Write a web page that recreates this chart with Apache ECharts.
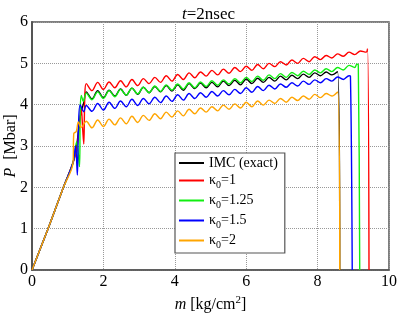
<!DOCTYPE html>
<html><head><meta charset="utf-8">
<script src="https://cdn.jsdelivr.net/npm/echarts@6/dist/echarts.min.js"></script>
<style>html,body{margin:0;padding:0;background:#fff}#c{width:398px;height:315px}</style>
</head><body><div id="c"></div>
<script>
// shared elastic ramp (all runs coincide)
const rampX = [0, 0.45, 0.88, 1.15];
const rampP = [0, 1.0, 2.0, 2.6];
// x positions of successive crests/troughs of the plateau oscillation
const waveX = [1.52,1.68,1.84,2.00,2.16,2.32,2.48,2.64,2.80,2.96,3.12,3.28,3.44,3.60,3.76,3.92,4.08,4.24,4.40,4.56,4.72,4.88,5.04,5.20,5.36,5.52,5.68,5.84,6.00,6.16,6.32,6.48,6.64,6.80,6.96,7.12,7.28,7.44,7.60,7.76,7.92,8.08,8.24,8.40,8.56,8.72,8.88,9.04,9.20,9.36];

// IMC (exact)
const imcRiseX = [1.25,1.33,1.40,1.45];
const imcRiseP = [3.0,3.6,3.9,4.05];
const imcP = [4.31,4.14,4.34,4.17,4.35,4.21,4.38,4.23,4.40,4.25,4.42,4.29,4.44,4.31,4.46,4.33,4.48,4.35,4.51,4.39,4.52,4.41,4.54,4.43,4.57,4.46,4.59,4.48,4.62,4.51,4.64,4.54,4.66,4.57,4.69,4.60,4.71,4.63,4.74,4.66,4.77,4.70,4.79,4.72,4.80];
const imcEndX = [8.62];
const imcEndP = [0];

// kappa0 = 1
const k1RiseX = [1.25,1.33,1.38,1.42,1.45,1.48];
const k1RiseP = [2.9,3.5,3.9,3.4,3.05,4.2];
const k1P = [4.51,4.34,4.54,4.37,4.55,4.41,4.58,4.43,4.61,4.46,4.63,4.51,4.66,4.54,4.70,4.57,4.73,4.61,4.77,4.65,4.79,4.69,4.83,4.72,4.86,4.76,4.90,4.80,4.93,4.83,4.97,4.87,5.00,4.92,5.04,4.96,5.08,5.00,5.12,5.04,5.16,5.09,5.19,5.13,5.23,5.17,5.27,5.21,5.30,5.27];
const k1EndX = [9.40, 9.44];
const k1EndP = [5.35, 0];

// kappa0 = 1.25
const k125RiseX = [1.25,1.33,1.35,1.38,1.44];
const k125RiseP = [3.1,2.5,3.8,4.22,4.08];
const k125P = [4.28,4.12,4.31,4.15,4.34,4.19,4.37,4.23,4.40,4.26,4.42,4.29,4.45,4.32,4.48,4.35,4.50,4.38,4.53,4.41,4.55,4.44,4.58,4.47,4.60,4.50,4.63,4.53,4.66,4.56,4.69,4.59,4.72,4.63,4.75,4.66,4.78,4.70,4.81,4.73,4.84,4.77,4.87,4.80,4.90,4.84,4.95,4.90];
const k125EndX = [9.10, 9.14, 9.18];
const k125EndP = [4.98, 4.97, 0];

// kappa0 = 1.5
const k15RiseX = [1.22,1.27,1.30,1.35,1.45];
const k15RiseP = [3.0,2.3,3.4,4.0,3.83];
const k15P = [3.98,3.84,4.03,3.87,4.06,3.91,4.09,3.95,4.13,3.98,4.15,4.02,4.18,4.05,4.21,4.08,4.24,4.11,4.27,4.15,4.29,4.18,4.32,4.21,4.34,4.24,4.37,4.27,4.41,4.30,4.44,4.34,4.47,4.38,4.50,4.42,4.53,4.45,4.57,4.49,4.60,4.53,4.63,4.57,4.67,4.61,4.70];
const k15EndX = [8.92, 8.97];
const k15EndP = [4.69, 0];

// kappa0 = 2
const k2RiseX = [1.17,1.24,1.30,1.38];
const k2RiseP = [3.3,3.35,3.58,3.45];
const k2P = [3.60,3.44,3.63,3.47,3.65,3.51,3.68,3.54,3.72,3.57,3.74,3.62,3.78,3.66,3.82,3.70,3.85,3.73,3.89,3.78,3.92,3.82,3.95,3.85,3.99,3.89,4.02,3.92,4.06,3.95,4.09,3.99,4.11,4.03,4.15,4.06,4.18,4.10,4.21,4.13,4.25,4.17,4.27,4.21,4.31];
const k2EndX = [8.62];
const k2EndP = [0];

const names = ['IMC (exact)', 'k1', 'k125', 'k15', 'k2'];
const legendText = {
  'IMC (exact)': 'IMC (exact)',
  'k1': 'κ{sub|0}=1',
  'k125': 'κ{sub|0}=1.25',
  'k15': 'κ{sub|0}=1.5',
  'k2': 'κ{sub|0}=2'
};
const colors = ['#000000', '#ff0000', '#11ee11', '#0000ff', '#ffa500'];

function build(riseX, riseP, P, endX, endP) {
  const d = [];
  rampX.forEach((x, i) => d.push([x, rampP[i]]));
  riseX.forEach((x, i) => d.push([x, riseP[i]]));
  P.forEach((p, i) => d.push([waveX[i], p]));
  endX.forEach((x, i) => d.push([x, endP[i]]));
  return d;
}
const datasets = [
  build(imcRiseX, imcRiseP, imcP, imcEndX, imcEndP),
  build(k1RiseX, k1RiseP, k1P, k1EndX, k1EndP),
  build(k125RiseX, k125RiseP, k125P, k125EndX, k125EndP),
  build(k15RiseX, k15RiseP, k15P, k15EndX, k15EndP),
  build(k2RiseX, k2RiseP, k2P, k2EndX, k2EndP)
];

const serif = '"Liberation Serif", "DejaVu Serif", serif';
const chart = echarts.init(document.getElementById('c'), null, {renderer: 'canvas'});
chart.setOption({
  animation: false,
  color: colors,
  title: {
    text: '{i|t}=2nsec',
    left: 177, top: 1,
    textStyle: {
      fontFamily: serif, fontSize: 17, fontWeight: 'normal', color: '#000',
      rich: { i: {fontFamily: serif, fontSize: 17, fontStyle: 'italic', color: '#000'} }
    }
  },
  graphic: [{
    type: 'text',
    x: 11, y: 146,
    rotation: Math.PI / 2,
    style: {
      text: '{i|P}  [Mbar]',
      fill: '#000',
      font: '16px "Liberation Serif", serif',
      align: 'center', verticalAlign: 'middle',
      rich: { i: {fontFamily: serif, fontSize: 16, fontStyle: 'italic', fill: '#000'} }
    }
  }],
  grid: {
    left: 32, right: 9, top: 22, bottom: 45,
    containLabel: false, outerBoundsMode: 'none',
    show: true, borderColor: '#555', borderWidth: 1.5, backgroundColor: 'transparent'
  },
  legend: {
    orient: 'vertical',
    left: 175, top: 153,
    data: names,
    itemWidth: 25, itemHeight: 14, itemGap: 3.5,
    padding: [3, 7, 3, 3],
    backgroundColor: '#fff',
    borderColor: '#555', borderWidth: 1.2,
    itemStyle: {opacity: 0},
    formatter: n => legendText[n],
    textStyle: {
      fontFamily: serif, fontSize: 14, color: '#000',
      rich: { sub: {fontFamily: serif, fontSize: 10, color: '#000', padding: [9, 0, 0, 0]} }
    }
  },
  xAxis: {
    type: 'value', min: 0, max: 10, interval: 2,
    name: '{i|m} [kg/cm{sup|2}]',
    nameLocation: 'middle', nameGap: 22,
    nameTextStyle: {
      fontFamily: serif, fontSize: 16, color: '#000',
      rich: {
        i: {fontFamily: serif, fontSize: 16, fontStyle: 'italic', color: '#000'},
        sup: {fontFamily: serif, fontSize: 11, color: '#000', padding: [0, 0, 8, 0]}
      }
    },
    axisLine: {lineStyle: {color: '#555', width: 1.5}},
    axisTick: {show: false},
    axisLabel: {fontFamily: serif, fontSize: 16, color: '#000', margin: 4},
    splitLine: {lineStyle: {color: '#999', type: 'dotted', width: 1}}
  },
  yAxis: {
    type: 'value', min: 0, max: 6, interval: 1,
    axisLine: {lineStyle: {color: '#555', width: 2}},
    axisTick: {show: false},
    axisLabel: {fontFamily: serif, fontSize: 16, color: '#000', margin: 4},
    splitLine: {lineStyle: {color: '#999', type: 'dotted', width: 1}}
  },
  series: names.map((n, i) => ({
    name: n, type: 'line', data: datasets[i],
    symbol: 'none', smooth: 0.35,
    lineStyle: {width: 1.4, color: colors[i]},
    z: 2 + i
  }))
});
</script>
</body></html>
